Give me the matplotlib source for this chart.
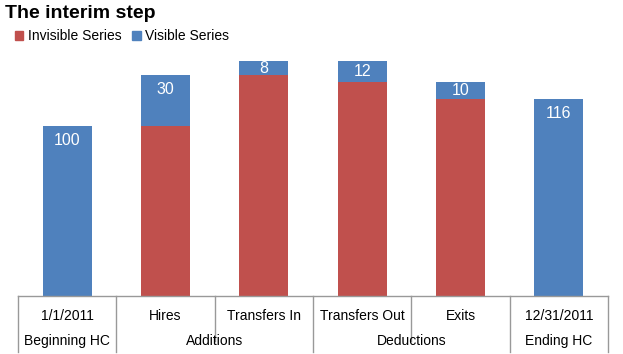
import numpy as np
import matplotlib
matplotlib.use("Agg")
import matplotlib.pyplot as plt
import matplotlib.transforms as mtransforms
from matplotlib.patches import Patch

plt.rcParams['font.family'] = ['Liberation Sans', 'DejaVu Sans']

# data
categories = ['1/1/2011', 'Hires', 'Transfers In', 'Transfers Out', 'Exits', '12/31/2011']
invisible = [0, 100, 130, 126, 116, 0]
visible = [100, 30, 8, 12, 10, 116]
groups = ['Beginning HC', 'Additions', 'Deductions', 'Ending HC']
group_spans = [(0, 0), (1, 2), (3, 4), (5, 5)]

red = '#C0504D'
blue = '#4F81BD'

fig = plt.figure(figsize=(6.23, 3.54), dpi=100)
W, H = 623, 354
ax = fig.add_axes([18 / W, (H - 296) / H, 590 / W, 238 / H])

x = np.arange(len(categories))
ax.bar(x, invisible, width=0.5, color=red)
ax.bar(x, visible, width=0.5, bottom=invisible, color=blue)

ax.set_xlim(-0.5, len(categories) - 0.5)
ax.set_ylim(0, 140)
ax.axis('off')

# value labels, inside end
for i in range(len(x)):
    top = invisible[i] + visible[i]
    off = min(8.8, visible[i] / 2)
    ax.text(x[i], top - off, str(visible[i]), color='white', fontsize=11.5,
            ha='center', va='center')

# category table under the axis
trans = mtransforms.blended_transform_factory(ax.transData, ax.transAxes)
row2 = -56 / 238
mid = -45 / 238
lc = '#999999'
ax.plot([-0.5, 5.5], [0, 0], color=lc, lw=1, transform=trans, clip_on=False)
for b in np.arange(-0.5, 6.0, 1.0):
    full = b in (-0.5, 0.5, 2.5, 4.5, 5.5)
    ax.plot([b, b], [0, row2 if full else mid], color=lc, lw=1,
            transform=trans, clip_on=False)
for i, c in enumerate(categories):
    ax.text(x[i], -20 / 238, c, transform=trans, ha='center', va='center', fontsize=10)
for g, (a, b) in zip(groups, group_spans):
    ax.text((a + b) / 2, -45 / 238, g, transform=trans, ha='center', va='center', fontsize=10)

fig.text(5 / W, 1 - 14 / H, 'The interim step', fontsize=14, fontweight='bold',
         ha='left', va='center')
handles = [Patch(color=red, label='Invisible Series'), Patch(color=blue, label='Visible Series')]
fig.legend(handles=handles, loc='center left', bbox_to_anchor=(15 / W, 1 - 36 / H),
           ncol=2, frameon=False, fontsize=10, handlelength=0.6, handleheight=0.6,
           handletextpad=0.3, columnspacing=0.8, borderaxespad=0, borderpad=0)

fig.savefig('out.png', dpi=100)
